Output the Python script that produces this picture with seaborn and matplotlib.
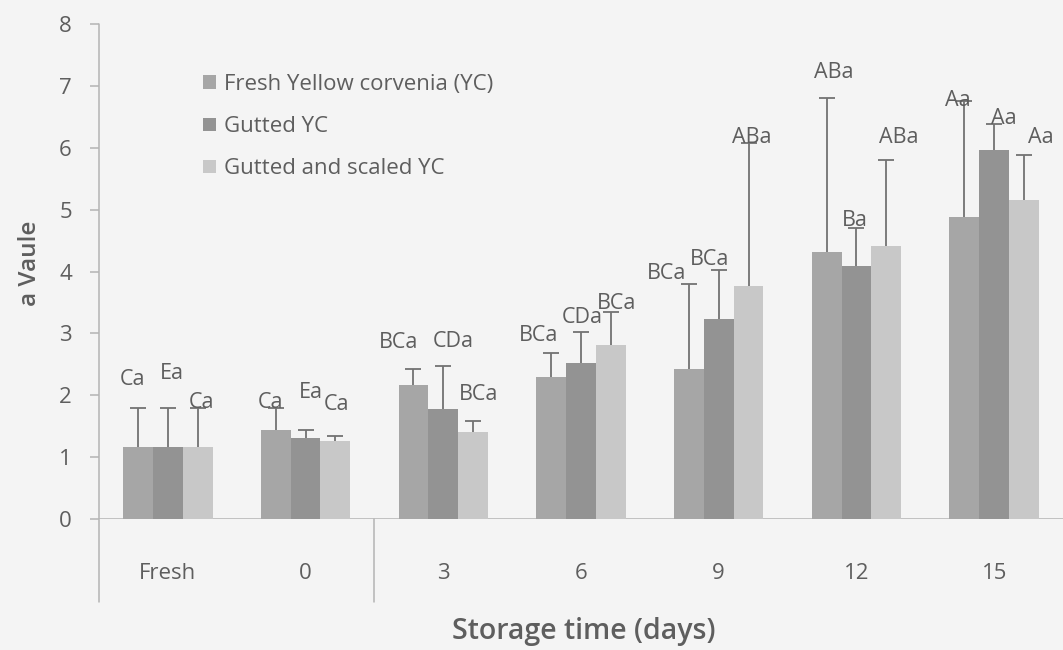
import numpy as np
import pandas as pd
import matplotlib
matplotlib.use("Agg")
import matplotlib.pyplot as plt
import seaborn as sns

# ---- data -------------------------------------------------------------
storage_days = ["Fresh", "0", "3", "6", "9", "12", "15"]
series_names = ["Fresh Yellow corvenia (YC)", "Gutted YC", "Gutted and scaled YC"]

fresh_yc = [1.17, 1.44, 2.16, 2.29, 2.42, 4.32, 4.88]
gutted_yc = [1.17, 1.31, 1.77, 2.52, 3.23, 4.09, 5.97]
gutted_scaled_yc = [1.17, 1.26, 1.40, 2.81, 3.76, 4.41, 5.15]

fresh_yc_sd = [0.62, 0.35, 0.26, 0.39, 1.38, 2.48, 1.87]
gutted_yc_sd = [0.62, 0.13, 0.71, 0.51, 0.79, 0.62, 0.42]
gutted_scaled_yc_sd = [0.62, 0.08, 0.18, 0.53, 2.32, 1.39, 0.74]

fresh_yc_sig = ["Ca", "Ca", "BCa", "BCa", "BCa", "ABa", "Aa"]
gutted_yc_sig = ["Ea", "Ea", "CDa", "CDa", "BCa", "Ba", "Aa"]
gutted_scaled_yc_sig = ["Ca", "Ca", "BCa", "BCa", "ABa", "ABa", "Aa"]

# ---- label placement (offset from bar centre / error-bar top) ---------
fresh_yc_dx = [-0.04, -0.04, -0.11, -0.09, -0.16, 0.05, -0.05]
gutted_yc_dx = [0.03, 0.04, 0.07, 0.01, -0.07, -0.01, 0.07]
gutted_scaled_yc_dx = [0.03, 0.01, 0.04, 0.04, 0.02, 0.09, 0.12]
fresh_yc_dy = [0.47, 0.10, 0.43, 0.29, 0.17, 0.41, 0.02]
gutted_yc_dy = [0.56, 0.61, 0.39, 0.23, 0.17, 0.11, 0.08]
gutted_scaled_yc_dy = [0.10, 0.51, 0.44, 0.14, 0.08, 0.36, 0.27]

means = [fresh_yc, gutted_yc, gutted_scaled_yc]
sds = [fresh_yc_sd, gutted_yc_sd, gutted_scaled_yc_sd]
sigs = [fresh_yc_sig, gutted_yc_sig, gutted_scaled_yc_sig]
dxs = [fresh_yc_dx, gutted_yc_dx, gutted_scaled_yc_dx]
dys = [fresh_yc_dy, gutted_yc_dy, gutted_scaled_yc_dy]

df = pd.DataFrame({
    "day": np.tile(storage_days, len(series_names)),
    "group": np.repeat(series_names, len(storage_days)),
    "a_value": np.concatenate(means),
})

# ---- style ------------------------------------------------------------
sns.set_theme(style="white")
plt.rcParams["font.family"] = ["Open Sans", "DejaVu Sans"]

bg = "#f4f4f4"
text_col = "#5e5e5e"
line_col = "#b4b4b4"
palette = ["#a6a6a6", "#939393", "#c8c8c8"]

fig = plt.figure(figsize=(10.63, 6.5), dpi=100, facecolor=bg)
ax = fig.add_axes([99 / 1063, 131 / 650, 964 / 1063, 495 / 650])
ax.set_facecolor(bg)

sns.barplot(data=df, x="day", y="a_value", hue="group",
            order=storage_days, hue_order=series_names,
            palette=palette, saturation=1, width=0.65,
            errorbar=None, linewidth=0, ax=ax, zorder=2)

ax.set_xlim(-0.5, 6.5)
ax.set_ylim(0, 8)
ax.set_yticks(range(0, 9))

# one-sided (upper) error bars and significance letters
for cont, sd, sig, dx, dy in zip(ax.containers, sds, sigs, dxs, dys):
    xs = np.array([b.get_x() + b.get_width() / 2 for b in cont])
    hs = np.array([b.get_height() for b in cont])
    sd = np.array(sd)
    _, caps, _ = ax.errorbar(xs, hs, yerr=[np.zeros_like(sd), sd], fmt="none",
                             ecolor="#727272", elinewidth=1.3, capsize=5.5,
                             capthick=1.3, zorder=3)
    caps[0].set_visible(False)  # no cap at the bar top
    for x, h, s, t, ox, oy in zip(xs, hs, sd, sig, dx, dy):
        ax.text(x + ox, h + s + oy, t, ha="center", va="center",
                fontsize=15.5, color=text_col, zorder=4, clip_on=False)

# axis frame: baseline, extended value axis and category divider
sns.despine(ax=ax, left=True, bottom=True, top=True, right=True)
ax.axhline(0, color=line_col, lw=1.1, zorder=1)
ax.plot([-0.5, -0.5], [-1.34, 8], color=line_col, lw=1.1, clip_on=False, zorder=1)
ax.plot([1.5, 1.5], [-1.34, 0], color=line_col, lw=1.1, clip_on=False, zorder=1)

ax.tick_params(axis="y", left=True, length=6.5, width=1.1, color=line_col,
               pad=13, labelsize=16, labelcolor=text_col)
ax.tick_params(axis="x", bottom=False, length=0, pad=32, labelsize=16,
               labelcolor=text_col)

ax.set_xlabel("Storage time (days)", fontsize=20.5, fontweight="semibold",
              color=text_col)
ax.xaxis.set_label_coords(0.503, -0.228)
ax.xaxis.label.set_va("center")
ax.set_ylabel("a Vaule", fontsize=17.5, fontweight="semibold", color=text_col)
ax.yaxis.set_label_coords(-0.0716, 0.517)
ax.yaxis.label.set_va("center")

handles, labels = ax.get_legend_handles_labels()
ax.legend(handles, labels, loc="upper left", bbox_to_anchor=(0.099, 0.917),
          frameon=False, handlelength=0.55, handleheight=0.55,
          handletextpad=0.4, labelspacing=0.95, fontsize=16,
          labelcolor=text_col, borderaxespad=0)

fig.savefig("out.png", dpi=100, facecolor=bg)
